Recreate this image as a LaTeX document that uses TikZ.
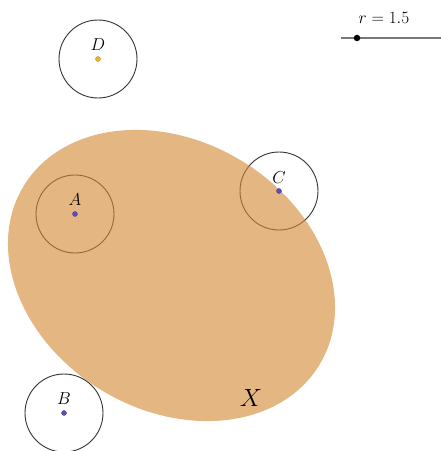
\documentclass[tikz,border=0pt]{standalone}
\usepackage{amsmath}
\definecolor{efill}{RGB}{210,137,53}
\definecolor{ptblue}{RGB}{95,75,190}
\definecolor{ptorange}{RGB}{240,180,50}
\definecolor{circ}{RGB}{50,50,50}
\definecolor{slidergray}{RGB}{120,120,120}
\begin{document}
\begin{tikzpicture}[x=1pt,y=1pt,
  disk/.style={draw=circ, line width=0.9pt},
  pt/.style={circle, inner sep=0pt, minimum size=5pt, fill=ptblue, draw=ptblue!70!black, line width=0.3pt},
  lbl/.style={font=\fontsize{17}{19}\selectfont, inner sep=0pt}]
\useasboundingbox (0,0) rectangle (441,451);
% points
\coordinate (Dc) at (98,392);
\coordinate (Ac) at (75,237);
\coordinate (Cc) at (279,260);
\coordinate (Bc) at (64,38);
% circles
\draw[disk] (Dc) circle (39);
\draw[disk] (Ac) circle (39);
\draw[disk] (Cc) circle (39);
\draw[disk] (Bc) circle (39);
% region X
\fill[efill, fill opacity=0.62] (171.5,175.5) ellipse [x radius=172.8, y radius=134.4, rotate=-31];
\node[lbl, font=\fontsize{34}{40}\selectfont] (X) at (251,53) {$X$};
% point markers
\node[pt, fill=ptorange, draw=ptorange!70!black] (D) at (Dc) {};
\node[pt] (A) at (Ac) {};
\node[pt] (C) at (Cc) {};
\node[pt] (B) at (Bc) {};
\node[lbl] (Dl) at (98,406) {$D$};
\node[lbl] (Al) at (75,251) {$A$};
\node[lbl] (Cl) at (279,273) {$C$};
\node[lbl] (Bl) at (64,52) {$B$};
% slider
\coordinate (s0) at (341,413);
\coordinate (s1) at (441,413);
\draw[slidergray, line width=1.6pt] (s0) -- (s1);
\node[circle, inner sep=0pt, minimum size=6.5pt, fill=black] (sp) at (357,413) {};
\node[lbl] (rl) at (384,433) {$r = 1.5$};
\end{tikzpicture}
\end{document}
